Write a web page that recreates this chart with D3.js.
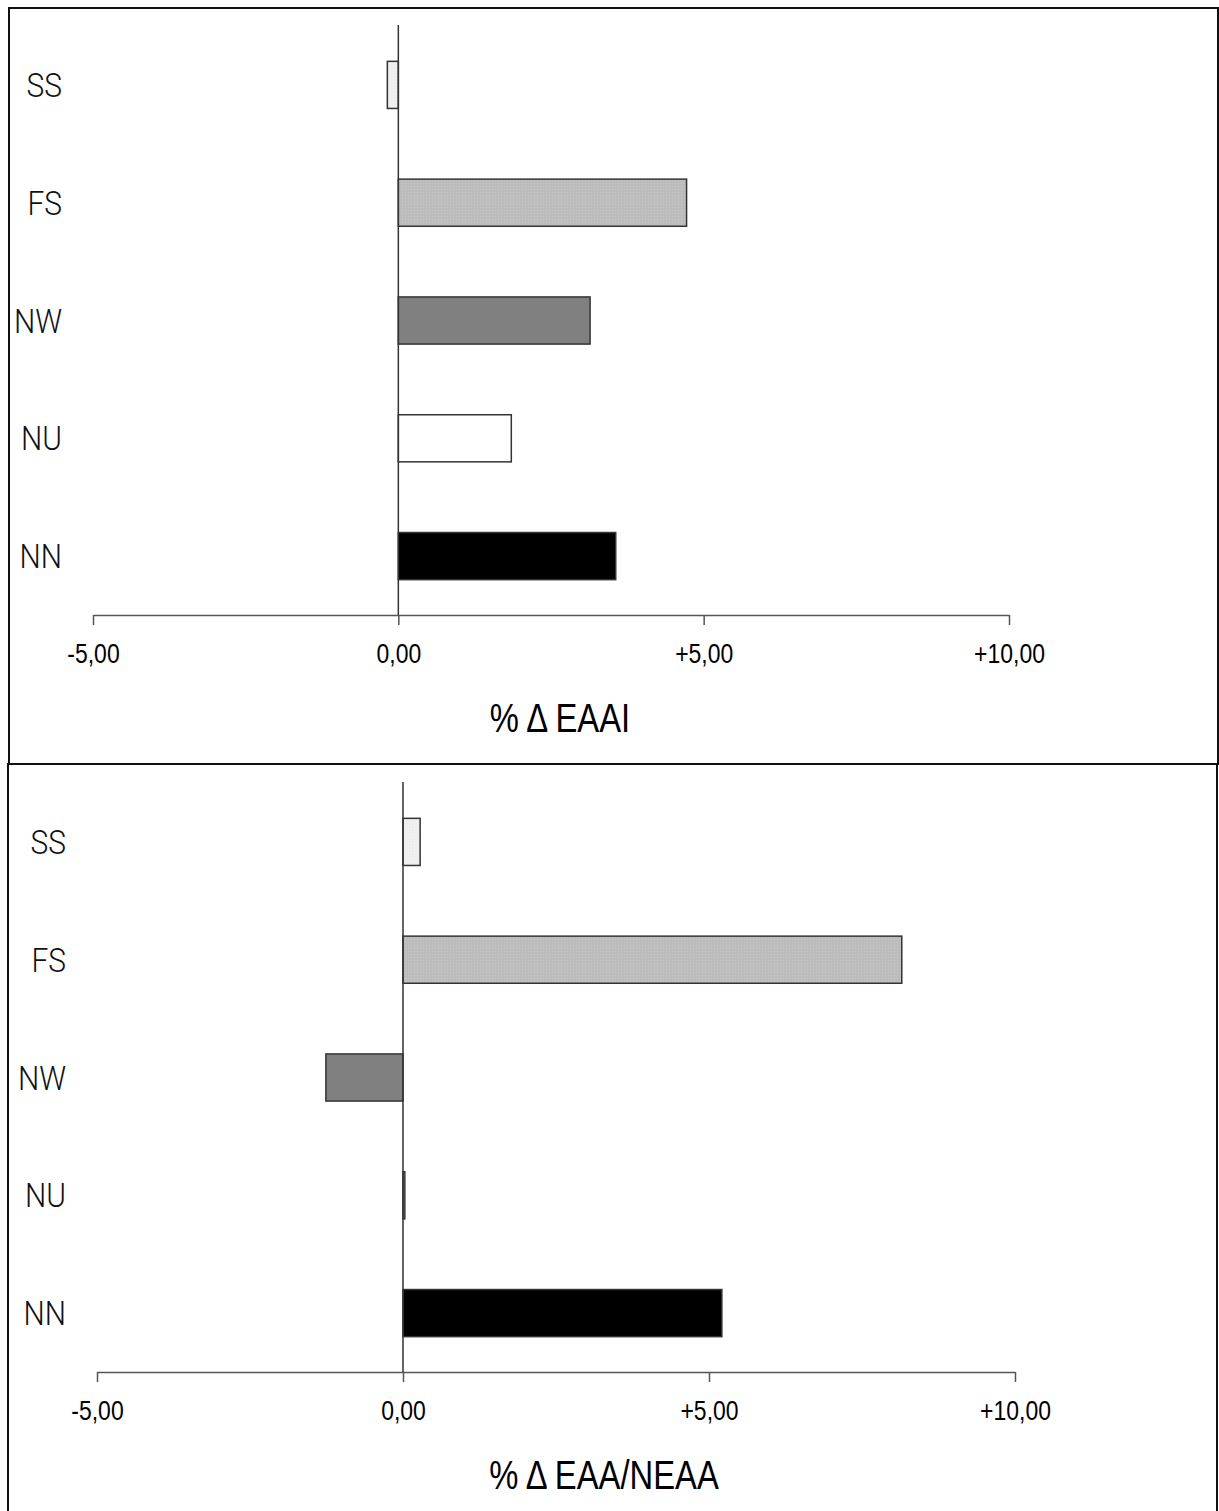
<!DOCTYPE html>
<html>
<head>
<meta charset="utf-8">
<script src="https://cdn.jsdelivr.net/npm/d3@7"></script>
<style>
  body { margin: 0; background: #fff; }
  svg { display: block; }
  .cat { font-family: Roboto, "Liberation Sans", sans-serif; font-weight: 300; font-size: 34px; fill: #111; }
  .tick text, .xtitle { font-family: "Liberation Sans", Arial, sans-serif; fill: #000; }
</style>
</head>
<body>
<svg id="chart" width="1219" height="1511"></svg>
<script>
// categories, top to bottom
const categories = ["SS", "FS", "NW", "NU", "NN"];
// % change values
const eaaiValues  = [-0.18, 4.72, 3.14, 1.85, 3.56];
const ratioValues = [0.28, 8.15, -1.26, 0.03, 5.21];
const tickValues = [-5, 0, 5, 10];
const tickLabels = ["-5,00", "0,00", "+5,00", "+10,00"];
const titles = ["% \u0394 EAAI", "% \u0394 EAA/NEAA"];
const fills = ["url(#dotLight)", "url(#dotGrey)", "#808080", "#ffffff", "#000000"];

const svg = d3.select("#chart");

// stippled fills
const defs = svg.append("defs");
function dotPattern(id, base, dot) {
  const p = defs.append("pattern").attr("id", id)
      .attr("width", 3).attr("height", 3).attr("patternUnits", "userSpaceOnUse");
  p.append("rect").attr("width", 3).attr("height", 3).attr("fill", base);
  p.append("rect").attr("width", 1).attr("height", 1).attr("fill", dot);
}
dotPattern("dotLight", "#eeeeee", "#f8f8f8");
dotPattern("dotGrey", "#bcbcbc", "#c9c9c9");

// no narrow font installed, so squeeze the text sideways
const narrow = 0.82;

function drawPanel(p) {
  const g = svg.append("g");

  g.append("rect")
      .attr("x", p.box[0]).attr("y", p.box[1])
      .attr("width", p.box[2]).attr("height", p.box[3])
      .attr("fill", "none").attr("stroke", "#111").attr("stroke-width", 2);

  const x = d3.scaleLinear().domain([-5, 10]).range(p.xRange);
  const y = d3.scaleBand().domain(categories).range(p.yRange)
      .paddingInner(0.6).paddingOuter(0.3);

  // bars
  g.append("g")
    .selectAll("rect")
    .data(p.values)
    .join("rect")
      .attr("x", d => x(Math.min(0, d)))
      .attr("width", d => Math.abs(x(d) - x(0)))
      .attr("y", (d, i) => y(categories[i]))
      .attr("height", y.bandwidth())
      .attr("fill", (d, i) => fills[i])
      .attr("stroke", "#333")
      .attr("stroke-width", 1.5);

  // zero line
  g.append("line")
      .attr("x1", x(0)).attr("x2", x(0))
      .attr("y1", p.yRange[0] - 1).attr("y2", p.yRange[1])
      .attr("stroke", "#333").attr("stroke-width", 1.5);

  // x axis
  const ax = g.append("g")
      .attr("transform", `translate(0,${p.yRange[1]})`)
      .call(d3.axisBottom(x).tickValues(tickValues)
        .tickFormat((d, i) => tickLabels[i])
        .tickSize(10).tickSizeOuter(0));
  ax.select(".domain").attr("stroke", "#555").attr("stroke-width", 1.5);
  ax.selectAll(".tick line").attr("stroke", "#555").attr("stroke-width", 1.5);
  ax.selectAll(".tick text")
      .attr("y", 48).attr("dy", 0)
      .attr("transform", `scale(${narrow},1)`)
      .style("font-size", "28px");

  // category labels
  g.append("g")
    .selectAll("text")
    .data(categories)
    .join("text")
      .attr("class", "cat")
      .attr("transform", d => `translate(${p.labelX},${y(d) + y.bandwidth() / 2 + 12}) scale(0.88,1)`)
      .attr("text-anchor", "end")
      .text(d => d);

  g.append("text")
      .attr("class", "xtitle")
      .attr("transform", `translate(${p.titleX},${p.titleY}) scale(${narrow},1)`)
      .attr("text-anchor", "middle")
      .style("font-size", "40px")
      .text(p.title);
}

drawPanel({
  box: [9, 8, 1209, 756],
  xRange: [93, 1009], yRange: [26, 615],
  values: eaaiValues, labelX: 62,
  title: titles[0], titleX: 560, titleY: 732
});
drawPanel({
  box: [8, 764, 1209, 760],
  xRange: [97, 1015], yRange: [783, 1372],
  values: ratioValues, labelX: 66,
  title: titles[1], titleX: 604, titleY: 1489
});
</script>
</body>
</html>
